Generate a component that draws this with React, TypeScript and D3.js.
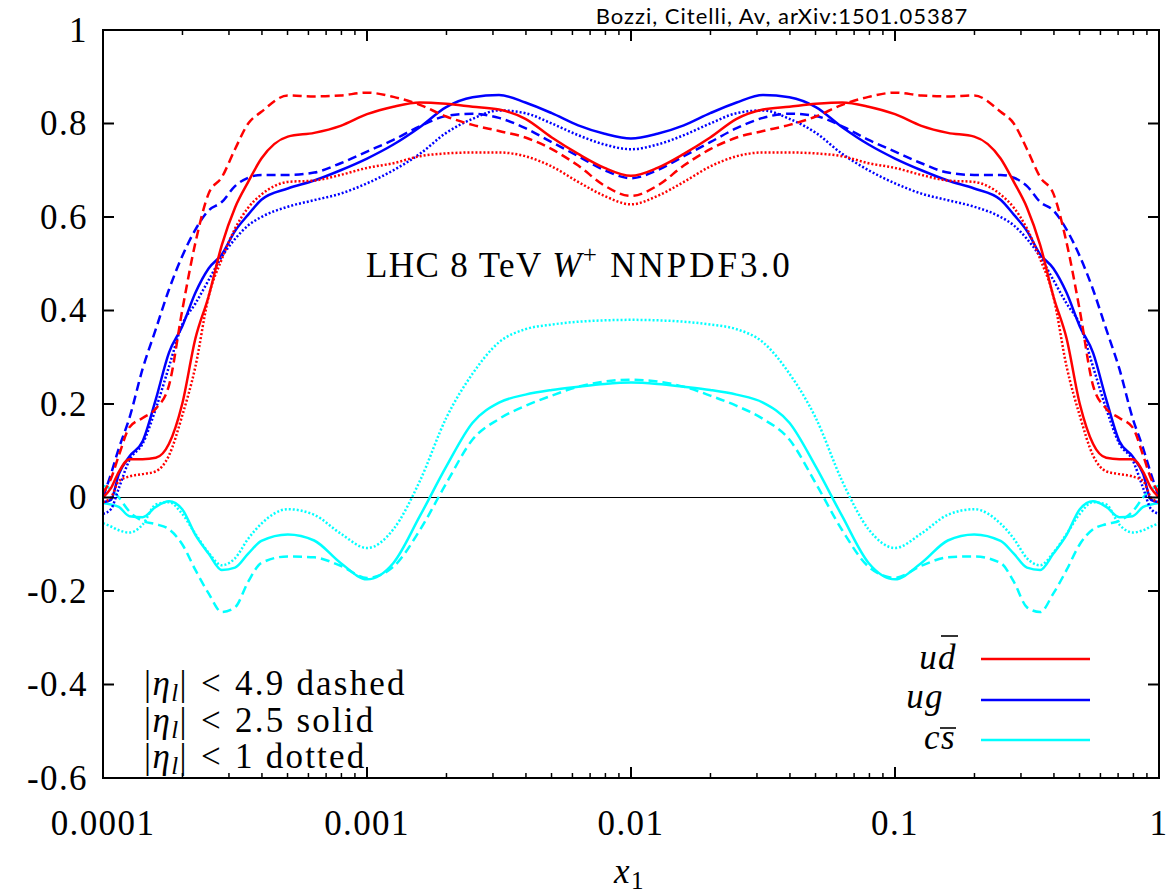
import React from "react";
import * as d3 from "d3";

const W = 1173;
const H = 896;
const left = 103;
const right = 1159;
const top = 30;
const bottom = 778;

// log10(x1) sample positions, dense near the ends where the curves wiggle
const logX = [
  -4, -3.97, -3.94, -3.9, -3.85, -3.8, -3.75, -3.7, -3.65, -3.6, -3.55, -3.5, -3.45, -3.4,
  -3.3, -3.2, -3.1, -3.0, -2.9, -2.8, -2.7, -2.6, -2.5, -2.4, -2.3, -2.2, -2.1, -2.0,
  -1.9, -1.8, -1.7, -1.6, -1.5, -1.4, -1.3, -1.2, -1.1, -1.0, -0.9, -0.8, -0.7,
  -0.6, -0.55, -0.5, -0.45, -0.4, -0.35, -0.3, -0.25, -0.2, -0.15, -0.1, -0.06, -0.03, 0,
];

// u dbar
const udDashed = [
  0.01, 0.04, 0.09, 0.15, 0.17, 0.19, 0.24, 0.4, 0.545, 0.65, 0.685, 0.745, 0.8, 0.825,
  0.86, 0.858, 0.86, 0.866, 0.857, 0.84, 0.815, 0.797, 0.784, 0.77, 0.745, 0.71, 0.667, 0.645,
  0.667, 0.71, 0.745, 0.77, 0.784, 0.797, 0.815, 0.84, 0.857, 0.866, 0.86, 0.858, 0.86,
  0.825, 0.8, 0.745, 0.685, 0.65, 0.545, 0.4, 0.24, 0.19, 0.17, 0.15, 0.09, 0.04, 0.01,
];
const udSolid = [
  0.0, 0.02, 0.055, 0.082, 0.082, 0.085, 0.115, 0.2, 0.34, 0.43, 0.54, 0.62, 0.675, 0.725,
  0.772, 0.78, 0.795, 0.82, 0.836, 0.845, 0.842, 0.836, 0.83, 0.81, 0.77, 0.735, 0.705, 0.688,
  0.705, 0.735, 0.77, 0.81, 0.83, 0.836, 0.842, 0.845, 0.836, 0.82, 0.795, 0.78, 0.772,
  0.725, 0.675, 0.62, 0.54, 0.43, 0.34, 0.2, 0.115, 0.085, 0.082, 0.082, 0.055, 0.02, 0.0,
];
const udDotted = [
  -0.01, 0.0, 0.035, 0.045, 0.05, 0.056, 0.09, 0.175, 0.28, 0.43, 0.51, 0.575, 0.62, 0.648,
  0.675, 0.678, 0.69, 0.705, 0.715, 0.73, 0.736, 0.738, 0.738, 0.73, 0.708, 0.675, 0.645, 0.627,
  0.645, 0.675, 0.708, 0.73, 0.738, 0.738, 0.736, 0.73, 0.715, 0.705, 0.69, 0.678, 0.675,
  0.648, 0.62, 0.575, 0.51, 0.43, 0.28, 0.175, 0.09, 0.056, 0.05, 0.045, 0.035, 0.0, -0.01,
];

// u g
const ugDashed = [
  0.0, 0.05, 0.105, 0.17, 0.275, 0.36, 0.445, 0.516, 0.573, 0.614, 0.632, 0.666, 0.684, 0.69,
  0.69, 0.695, 0.715, 0.74, 0.765, 0.794, 0.816, 0.821, 0.812, 0.79, 0.76, 0.73, 0.7, 0.683,
  0.7, 0.73, 0.76, 0.79, 0.812, 0.821, 0.816, 0.794, 0.765, 0.74, 0.715, 0.695, 0.69,
  0.69, 0.684, 0.666, 0.632, 0.614, 0.573, 0.516, 0.445, 0.36, 0.275, 0.17, 0.105, 0.05, 0.0,
];
const ugSolid = [
  -0.01, -0.005, 0.05, 0.088, 0.12, 0.21, 0.31, 0.366, 0.438, 0.49, 0.52, 0.57, 0.605, 0.637,
  0.661, 0.678, 0.7, 0.725, 0.755, 0.792, 0.835, 0.856, 0.861, 0.845, 0.822, 0.796, 0.778, 0.768,
  0.778, 0.796, 0.822, 0.845, 0.861, 0.856, 0.835, 0.792, 0.755, 0.725, 0.7, 0.678, 0.661,
  0.637, 0.605, 0.57, 0.52, 0.49, 0.438, 0.366, 0.31, 0.21, 0.12, 0.088, 0.05, -0.005, -0.01,
];
const ugDotted = [
  -0.035, -0.025, 0.02, 0.08, 0.115, 0.19, 0.28, 0.37, 0.415, 0.465, 0.515, 0.553, 0.582, 0.6,
  0.622, 0.636, 0.65, 0.672, 0.7, 0.735, 0.78, 0.81, 0.828, 0.822, 0.8, 0.775, 0.755, 0.745,
  0.755, 0.775, 0.8, 0.822, 0.828, 0.81, 0.78, 0.735, 0.7, 0.672, 0.65, 0.636, 0.622,
  0.6, 0.582, 0.553, 0.515, 0.465, 0.415, 0.37, 0.28, 0.19, 0.115, 0.08, 0.02, -0.025, -0.035,
];

// c sbar
const csDashed = [
  0.025, 0.018, 0.0, -0.03, -0.05, -0.057, -0.068, -0.1, -0.155, -0.205, -0.245, -0.235, -0.18, -0.14,
  -0.126, -0.128, -0.146, -0.172, -0.148, -0.07, 0.03, 0.124, 0.168, 0.196, 0.218, 0.237, 0.248, 0.252,
  0.248, 0.237, 0.218, 0.196, 0.168, 0.124, 0.03, -0.07, -0.148, -0.172, -0.146, -0.128, -0.126,
  -0.14, -0.18, -0.235, -0.245, -0.205, -0.155, -0.1, -0.068, -0.057, -0.05, -0.03, 0.0, 0.018, 0.025,
];
const csSolid = [
  -0.012, -0.015, -0.02, -0.04, -0.042, -0.02, -0.008, -0.025, -0.08, -0.12, -0.155, -0.15, -0.12, -0.093,
  -0.079, -0.092, -0.14, -0.175, -0.14, -0.04, 0.066, 0.16, 0.203, 0.22, 0.23, 0.237, 0.243, 0.246,
  0.243, 0.237, 0.23, 0.22, 0.203, 0.16, 0.066, -0.04, -0.14, -0.175, -0.14, -0.092, -0.079,
  -0.093, -0.12, -0.15, -0.155, -0.12, -0.08, -0.025, -0.008, -0.02, -0.042, -0.04, -0.02, -0.015, -0.012,
];
const csDotted = [
  -0.055, -0.062, -0.07, -0.075, -0.058, -0.015, -0.01, -0.035, -0.078, -0.118, -0.145, -0.13, -0.088, -0.056,
  -0.025, -0.037, -0.077, -0.108, -0.068, 0.035, 0.17, 0.265, 0.332, 0.36, 0.37, 0.376, 0.379, 0.38,
  0.379, 0.376, 0.37, 0.36, 0.332, 0.265, 0.17, 0.035, -0.068, -0.108, -0.077, -0.037, -0.025,
  -0.056, -0.088, -0.13, -0.145, -0.118, -0.078, -0.035, -0.01, -0.015, -0.058, -0.075, -0.07, -0.062, -0.055,
];

const red = "#ff0000";
const blue = "#0000ff";
const cyan = "#00ffff";
const dashed = "9,5";
const dotted = "2,2";

const series = [
  { values: csDotted, color: cyan, dash: dotted },
  { values: csDashed, color: cyan, dash: dashed },
  { values: csSolid, color: cyan, dash: null },
  { values: ugDotted, color: blue, dash: dotted },
  { values: ugDashed, color: blue, dash: dashed },
  { values: ugSolid, color: blue, dash: null },
  { values: udDotted, color: red, dash: dotted },
  { values: udDashed, color: red, dash: dashed },
  { values: udSolid, color: red, dash: null },
];

const xMajor = [1e-4, 1e-3, 1e-2, 1e-1, 1];
const xTickLabels = ["0.0001", "0.001", "0.01", "0.1", "1"];
const yTicks = [-0.6, -0.4, -0.2, 0, 0.2, 0.4, 0.6, 0.8, 1];
const etaCuts = ["4.9 dashed", "2.5 solid", "1 dotted"];

const serif = "'Liberation Serif', 'DejaVu Serif', serif";
const fs = 35;
const ls = 1.4;

const x = d3.scaleLog().domain([1e-4, 1]).range([left, right]);
const y = d3.scaleLinear().domain([-0.6, 1]).range([bottom, top]);

const line = d3
  .line<number>()
  .x((_, i) => x(Math.pow(10, logX[i])))
  .y((d) => y(d))
  .curve(d3.curveMonotoneX);

function App() {
  const minor = x
    .ticks()
    .filter((t) => Math.abs(Math.log10(t) - Math.round(Math.log10(t))) > 1e-6);

  return (
    <svg
      width={W}
      height={H}
      style={{ position: "absolute", left: 0, top: 0, background: "#fff" }}
      fontFamily={serif}
      letterSpacing={ls}
    >
      <text
        x={782}
        y={24}
        textAnchor="middle"
        fontFamily="Lato, 'Open Sans', sans-serif"
        fontSize={22}
        letterSpacing={1}
      >
        Bozzi, Citelli, Av, arXiv:1501.05387
      </text>

      <defs>
        <clipPath id="plot">
          <rect x={left} y={top} width={right - left} height={bottom - top} />
        </clipPath>
      </defs>

      <line x1={left} x2={right} y1={y(0)} y2={y(0)} stroke="#000" strokeWidth={1.2} />

      <g clipPath="url(#plot)">
        {series.map((s, i) => (
          <path
            key={`s${i}`}
            d={line(s.values) || ""}
            fill="none"
            stroke={s.color}
            strokeWidth={2.5}
            strokeDasharray={s.dash || undefined}
          />
        ))}
      </g>

      {/* frame */}
      <rect
        x={left}
        y={top}
        width={right - left}
        height={bottom - top}
        fill="none"
        stroke="#000"
        strokeWidth={2}
      />

      {/* x ticks */}
      {xMajor.map((t, i) => (
        <g key={`xm${i}`}>
          <line x1={x(t)} x2={x(t)} y1={bottom} y2={bottom - 11} stroke="#000" strokeWidth={2} />
          <line x1={x(t)} x2={x(t)} y1={top} y2={top + 11} stroke="#000" strokeWidth={2} />
          <text x={x(t)} y={835} textAnchor="middle" fontSize={fs}>
            {xTickLabels[i]}
          </text>
        </g>
      ))}
      {minor.map((t, i) => (
        <g key={`xn${i}`}>
          <line x1={x(t)} x2={x(t)} y1={bottom} y2={bottom - 5} stroke="#000" strokeWidth={1.5} />
          <line x1={x(t)} x2={x(t)} y1={top} y2={top + 5} stroke="#000" strokeWidth={1.5} />
        </g>
      ))}

      {/* y ticks */}
      {yTicks.map((t, i) => (
        <g key={`y${i}`}>
          <line x1={left} x2={left + 11} y1={y(t)} y2={y(t)} stroke="#000" strokeWidth={2} />
          <line x1={right} x2={right - 11} y1={y(t)} y2={y(t)} stroke="#000" strokeWidth={2} />
          <text x={88} y={y(t)} dy="0.34em" textAnchor="end" fontSize={fs}>
            {String(+t.toFixed(1))}
          </text>
        </g>
      ))}

      {/* axis title */}
      <text x={614} y={883} fontSize={fs}>
        <tspan fontStyle="italic">x</tspan>
        <tspan fontSize={25} dy={6}>1</tspan>
      </text>

      {/* plot label */}
      <text x={366} y={277} fontSize={fs}>
        LHC 8 TeV <tspan fontStyle="italic">W</tspan>
        <tspan fontSize={25} dy={-14}>+</tspan>
        <tspan dy={14} dx={12} letterSpacing={3}>NNPDF3.0</tspan>
      </text>

      {/* rapidity cut legend */}
      {etaCuts.map((s, i) => (
        <text key={`eta${i}`} x={144} y={695 + i * 36.5} fontSize={fs}>
          |<tspan fontStyle="italic">η</tspan>
          <tspan fontStyle="italic" fontSize={25} dy={6}>l</tspan>
          <tspan dy={-6}>|</tspan>
          <tspan dx={13}>&lt;</tspan>
          <tspan dx={13} letterSpacing={2.2}>{s}</tspan>
        </text>
      ))}

      {/* channel legend */}
      <text x={957} y={669} textAnchor="end" fontSize={fs} fontStyle="italic">
        ud
      </text>
      <line x1={941} x2={958} y1={636} y2={636} stroke="#000" strokeWidth={1.6} />
      <line x1={981} x2={1090} y1={659} y2={659} stroke={red} strokeWidth={2.5} />
      <text x={944} y={708} textAnchor="end" fontSize={fs} fontStyle="italic">
        ug
      </text>
      <line x1={981} x2={1090} y1={700} y2={700} stroke={blue} strokeWidth={2.5} />
      <text x={956} y={749} textAnchor="end" fontSize={fs} fontStyle="italic">
        cs
      </text>
      <line x1={940} x2={956} y1={728} y2={728} stroke="#000" strokeWidth={1.6} />
      <line x1={981} x2={1090} y1={740} y2={740} stroke={cyan} strokeWidth={2.5} />
    </svg>
  );
}

export default App;
